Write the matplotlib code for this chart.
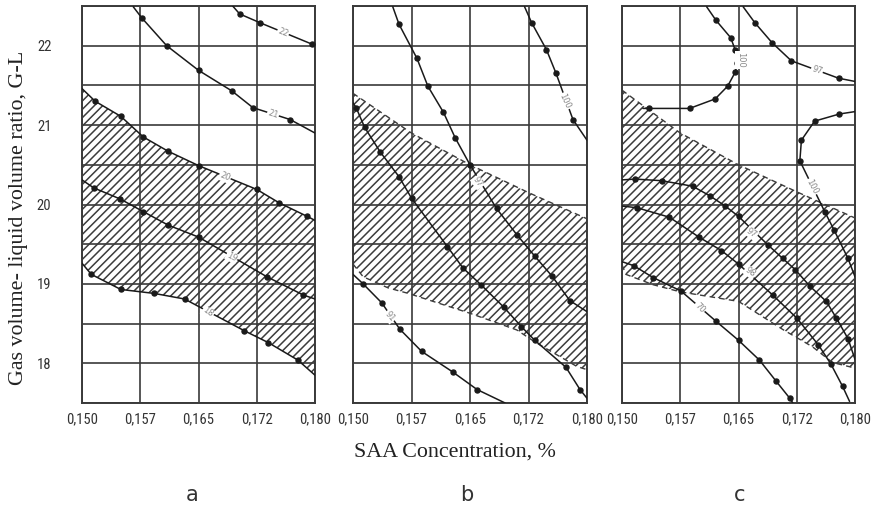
import matplotlib
matplotlib.use("Agg")
import matplotlib.pyplot as plt
from matplotlib import font_manager
import numpy as np

# pick a narrow sans for tick labels if we have one
names = {f.name for f in font_manager.fontManager.ttflist}
tick_font = "DejaVu Sans"
for cand in ["Liberation Sans Narrow", "Roboto Condensed", "Roboto"]:
    if cand in names:
        tick_font = cand
        break

plt.rcParams["hatch.linewidth"] = 1.1

x_ticks = [0.150, 0.1575, 0.165, 0.1725, 0.180]
x_tick_labels = ["0,150", "0,157", "0,165", "0,172", "0,180"]
y_major = [18, 19, 20, 21, 22]

# ---- panel a ----
a_22_x = [0.1694, 0.1703, 0.1729, 0.1796, 0.1800]
a_22_y = [22.50, 22.40, 22.29, 22.02, 22.01]
a_21_x = [0.1566, 0.1577, 0.1609, 0.1650, 0.1693, 0.1720, 0.1768, 0.1800]
a_21_y = [22.49, 22.35, 22.00, 21.69, 21.43, 21.22, 21.07, 20.90]
a_20_x = [0.1500, 0.1517, 0.1550, 0.1579, 0.1611, 0.1650, 0.1725, 0.1754, 0.1790, 0.1800]
a_20_y = [21.46, 21.30, 21.11, 20.85, 20.67, 20.49, 20.19, 20.02, 19.85, 19.80]
a_19_x = [0.1500, 0.1515, 0.1549, 0.1579, 0.1611, 0.1650, 0.1738, 0.1785, 0.1800]
a_19_y = [20.31, 20.21, 20.07, 19.91, 19.74, 19.59, 19.09, 18.86, 18.81]
a_18_x = [0.1500, 0.1512, 0.1550, 0.1593, 0.1632, 0.1709, 0.1740, 0.1778, 0.1800]
a_18_y = [19.26, 19.12, 18.93, 18.88, 18.81, 18.41, 18.26, 18.04, 17.85]

# ---- panel b ----
b_top_x = [0.1720, 0.1729, 0.1748, 0.1760, 0.1782, 0.1800]
b_top_y = [22.49, 22.29, 21.95, 21.66, 21.07, 20.81]
b_mid_x = [0.1551, 0.1559, 0.1582, 0.1596, 0.1616, 0.1631, 0.1650, 0.1684, 0.1710,
           0.1733, 0.1755, 0.1778, 0.1800]
b_mid_y = [22.49, 22.27, 21.84, 21.49, 21.16, 20.84, 20.50, 19.95, 19.62,
           19.35, 19.10, 18.79, 18.65]
b_low_x = [0.1500, 0.1504, 0.1515, 0.1535, 0.1559, 0.1575, 0.1621, 0.1641, 0.1664,
           0.1693, 0.1716, 0.1733, 0.1773, 0.1791, 0.1800]
b_low_y = [21.28, 21.22, 20.97, 20.66, 20.35, 20.08, 19.47, 19.20, 18.99,
           18.71, 18.46, 18.29, 17.95, 17.67, 17.56]
b_91_x = [0.1500, 0.1513, 0.1537, 0.1560, 0.1588, 0.1628, 0.1659, 0.1695]
b_91_y = [19.12, 19.00, 18.76, 18.43, 18.15, 17.89, 17.67, 17.50]
b_band_up_x = [0.1500, 0.1575, 0.1650, 0.1725, 0.1800]
b_band_up_y = [21.40, 20.90, 20.50, 20.15, 19.82]
b_band_lo_x = [0.1500, 0.1513, 0.1545, 0.1571, 0.1650, 0.1710, 0.1733, 0.1787, 0.1800]
b_band_lo_y = [19.25, 19.09, 18.95, 18.88, 18.63, 18.42, 18.27, 17.96, 17.92]

# ---- panel c ----
c_u_x = [0.1609, 0.1621, 0.1640, 0.1646, 0.1648, 0.1646, 0.1636, 0.1620, 0.1587, 0.1535, 0.1527]
c_u_y = [22.49, 22.32, 22.10, 21.94, 21.78, 21.67, 21.49, 21.33, 21.21, 21.21, 21.21]
c_97_x = [0.1656, 0.1671, 0.1693, 0.1718, 0.1779, 0.1800]
c_97_y = [22.49, 22.29, 22.04, 21.81, 21.59, 21.55]
c_c_x = [0.1800, 0.1780, 0.1748, 0.1731, 0.1729, 0.1761, 0.1773, 0.1791, 0.1800]
c_c_y = [21.17, 21.14, 21.05, 20.81, 20.55, 19.91, 19.68, 19.32, 19.09]
c_hi_x = [0.1500, 0.1517, 0.1551, 0.1591, 0.1613, 0.1633, 0.1650, 0.1688, 0.1707,
          0.1723, 0.1742, 0.1763, 0.1776, 0.1791, 0.1800]
c_hi_y = [20.31, 20.32, 20.30, 20.23, 20.11, 19.98, 19.85, 19.49, 19.32,
          19.18, 18.97, 18.78, 18.57, 18.31, 18.05]
c_lo_x = [0.1500, 0.1519, 0.1561, 0.1599, 0.1628, 0.1650, 0.1694, 0.1725, 0.1753,
          0.1769, 0.1784, 0.1793]
c_lo_y = [19.98, 19.96, 19.84, 19.59, 19.42, 19.25, 18.86, 18.57, 18.23,
          17.99, 17.71, 17.52]
c_70_x = [0.1500, 0.1515, 0.1540, 0.1576, 0.1621, 0.1650, 0.1677, 0.1698, 0.1716, 0.1720]
c_70_y = [19.28, 19.23, 19.08, 18.91, 18.53, 18.29, 18.04, 17.78, 17.56, 17.50]
c_band_up_x = [0.1500, 0.1575, 0.1650, 0.1725, 0.1800]
c_band_up_y = [21.44, 20.90, 20.50, 20.16, 19.83]
c_band_lo_x = [0.1500, 0.1505, 0.1540, 0.1575, 0.1600, 0.1650, 0.1708, 0.1745, 0.1771, 0.1800]
c_band_lo_y = [19.24, 19.12, 18.99, 18.90, 18.86, 18.78, 18.42, 18.21, 18.01, 17.94]

line_col = "#1a1a1a"
grid_col = "#3a3a3a"


def curve(ax, xs, ys):
    ax.plot(xs, ys, color=line_col, lw=1.1, marker="o", ms=3.6,
            markevery=slice(1, -1), zorder=4, solid_capstyle="round")


def band(ax, ux, uy, lx, ly, dashed):
    px = list(ux) + list(lx)[::-1]
    py = list(uy) + list(ly)[::-1]
    ax.fill(px, py, facecolor="none", edgecolor="#3c3c3c", hatch="////",
            linewidth=0, zorder=2)
    if dashed:
        for xs, ys in ((ux, uy), (lx, ly)):
            ax.plot(xs, ys, color="#3c3c3c", lw=1.0, ls=(0, (4, 3)), zorder=3)


def label(ax, x, y, s, rot):
    ax.text(x, y, s, fontsize=6, color="#8a8a8a", rotation=rot,
            ha="center", va="center", rotation_mode="anchor", zorder=5,
            bbox=dict(fc="white", ec="none", pad=0.6))


fig = plt.figure(figsize=(8.81, 5.13), dpi=100)
W, H = 881, 513
lefts = [82, 353, 622]
widths = [233, 234, 233]
axes = []
for i in range(3):
    ax = fig.add_axes([lefts[i] / W, 1 - 403 / H, widths[i] / W, 397 / H])
    ax.set_xlim(0.150, 0.180)
    ax.set_ylim(17.5, 22.5)
    ax.set_xticks(x_ticks)
    ax.set_xticklabels(x_tick_labels, fontsize=10.5, family=tick_font, color="#333333")
    ax.set_yticks(y_major)
    ax.set_yticks(np.arange(17.5, 22.51, 0.5), minor=True)
    if i == 0:
        ax.set_yticklabels([str(v) for v in y_major], fontsize=10.5,
                           family=tick_font, color="#333333")
    else:
        ax.set_yticklabels([])
    ax.tick_params(which="both", length=0)
    ax.tick_params(axis="x", pad=7)
    ax.tick_params(axis="y", pad=22)
    ax.grid(True, which="both", color=grid_col, lw=1.2, zorder=1)
    ax.set_axisbelow(True)
    for sp in ax.spines.values():
        sp.set_color(grid_col)
        sp.set_linewidth(1.4)
    axes.append(ax)

# panel a
ax = axes[0]
band(ax, a_20_x, a_20_y, a_18_x, a_18_y, False)
for xs, ys in ((a_22_x, a_22_y), (a_21_x, a_21_y), (a_20_x, a_20_y),
               (a_19_x, a_19_y), (a_18_x, a_18_y)):
    curve(ax, xs, ys)
label(ax, 0.1759, 22.17, "22", -22)
label(ax, 0.1746, 21.14, "21", -18)
label(ax, 0.1684, 20.35, "20", -22)
label(ax, 0.1693, 19.34, "19", -27)
label(ax, 0.1662, 18.64, "18", -35)

# panel b
ax = axes[1]
band(ax, b_band_up_x, b_band_up_y, b_band_lo_x, b_band_lo_y, True)
for xs, ys in ((b_top_x, b_top_y), (b_mid_x, b_mid_y), (b_low_x, b_low_y), (b_91_x, b_91_y)):
    curve(ax, xs, ys)
label(ax, 0.1772, 21.30, "100", -65)
label(ax, 0.1660, 20.28, "97", -55)
label(ax, 0.1547, 18.59, "91", -50)

# panel c
ax = axes[2]
band(ax, c_band_up_x, c_band_up_y, c_band_lo_x, c_band_lo_y, True)
for xs, ys in ((c_u_x, c_u_y), (c_97_x, c_97_y), (c_c_x, c_c_y),
               (c_hi_x, c_hi_y), (c_lo_x, c_lo_y), (c_70_x, c_70_y)):
    curve(ax, xs, ys)
label(ax, 0.1653, 21.82, "100", -90)
label(ax, 0.1751, 21.69, "97", -18)
label(ax, 0.1744, 20.22, "100", -62)
label(ax, 0.1667, 19.64, "97", -35)
label(ax, 0.1665, 19.15, "98", -35)
label(ax, 0.1600, 18.70, "70", -45)

fig.text(455 / W, 1 - 452 / H, "SAA Concentration, %", ha="center", va="center",
         fontsize=15.8, family="Liberation Serif", color="#222222")
fig.text(19 / W, 1 - 218 / H, "Gas volume- liquid volume ratio, G-L", ha="center",
         va="center", rotation=90, fontsize=15.8, family="Liberation Serif", color="#222222")
for s, xc in (("a", 192), ("b", 467), ("c", 740)):
    fig.text(xc / W, 1 - 495 / H, s, ha="center", va="center", fontsize=15,
             family="DejaVu Sans", color="#333333")

fig.savefig("out.png", dpi=100)
